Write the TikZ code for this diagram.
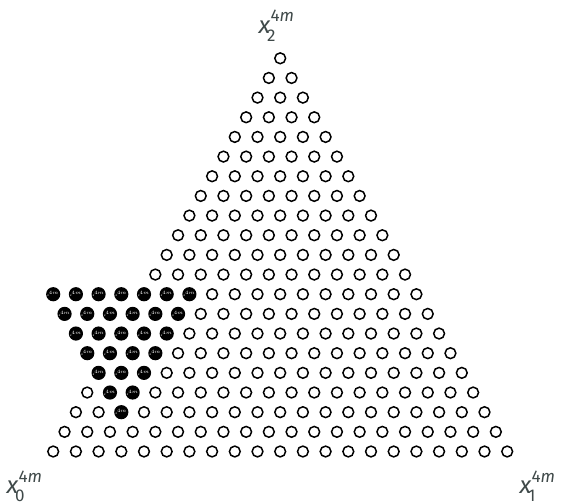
\documentclass[tikz,border=0pt]{standalone}
\usepackage{fontspec}
\setmainfont{Fira Sans}
\definecolor{lblgray}{HTML}{3F4949}
\begin{document}
\begin{tikzpicture}[x=1pt,y=-1pt,
  wn/.style={circle,draw=black,fill=white,line width=1.5pt,minimum size=10.8pt,inner sep=0pt},
  bn/.style={circle,draw=black,fill=black,line width=1.5pt,minimum size=10.8pt,inner sep=0pt,
    font=\fontsize{3}{3}\selectfont,text=white},
  corner/.style={anchor=base west,inner sep=0pt,text=lblgray,font=\fontsize{24}{24}\selectfont}]
\useasboundingbox (0,0) rectangle (562,503);
% black inverted triangle
\foreach \r in {12,...,18}{
  \pgfmathtruncatemacro\ks{\r-16}
  \foreach \k in {\ks,...,2}{
    \node[bn] (b-\r-\k) at ({280.2+(\k-\r/2)*22.7},{58.3+\r*19.66}) {\textit{x}$^{4m}$};
  }
}
% white nodes of the main triangle
\foreach \r in {0,...,20}{
  \foreach \k in {0,...,\r}{
    \pgfmathtruncatemacro\isb{and(and(\r>11,\k<3),\r-\k<17)}
    \ifnum\isb=0
      \node[wn] (c-\r-\k) at ({280.2+(\k-\r/2)*22.7},{58.3+\r*19.66}) {};
    \fi
  }
}
\newcommand{\cornerlabel}[1]{\textit{x}\rlap{\kern-3.5pt\raisebox{-7.8pt}{\fontsize{17}{17}\selectfont #1}}\raisebox{11.6pt}{\fontsize{17}{17}\selectfont 4\textit{m}}}
\node[corner] (x2) at (258.5,33.3) {\cornerlabel{2}};
\node[corner] (x0) at (6.5,493.8) {\cornerlabel{0}};
\node[corner] (x1) at (519.5,493.8) {\cornerlabel{1}};
\end{tikzpicture}
\end{document}
